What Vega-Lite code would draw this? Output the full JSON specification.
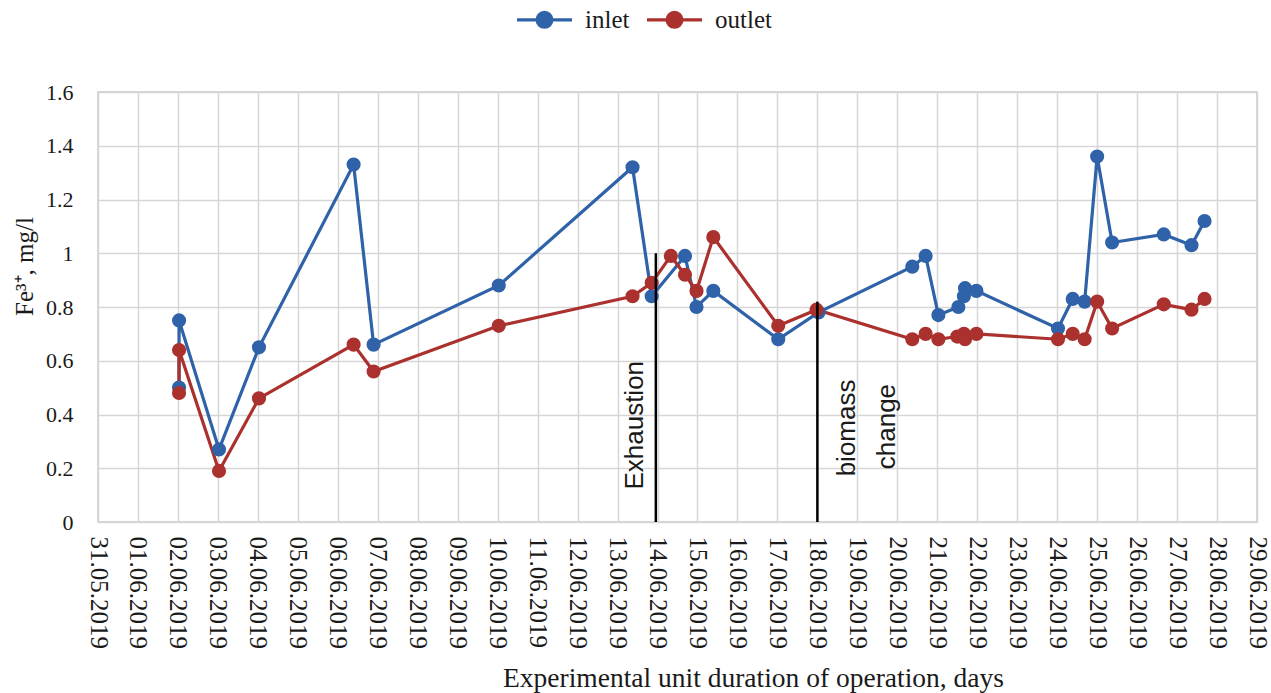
{
  "$schema": "https://vega.github.io/schema/vega-lite/v6.json",
  "autosize": {"type": "none"},
  "width": 1159,
  "height": 430,
  "padding": {"left": 98, "top": 92, "right": 14, "bottom": 171},
  "background": "white",
  "config": {
    "view": {"stroke": "#c8c8c8", "strokeWidth": 1.5},
    "axis": {"gridColor": "#d6d6d6", "gridWidth": 1.5, "domain": false, "ticks": false}
  },
  "datasets": {
    "series": [
      {"series": "inlet", "ord": 1, "t": "2019-06-02T00:40", "v": 0.50},
      {"series": "inlet", "ord": 2, "t": "2019-06-02T00:41", "v": 0.75},
      {"series": "inlet", "ord": 3, "t": "2019-06-03T00:40", "v": 0.27},
      {"series": "inlet", "ord": 4, "t": "2019-06-04T00:40", "v": 0.65},
      {"series": "inlet", "ord": 5, "t": "2019-06-06T09:30", "v": 1.33},
      {"series": "inlet", "ord": 6, "t": "2019-06-06T21:30", "v": 0.66},
      {"series": "inlet", "ord": 7, "t": "2019-06-10T00:40", "v": 0.88},
      {"series": "inlet", "ord": 8, "t": "2019-06-13T09:00", "v": 1.32},
      {"series": "inlet", "ord": 9, "t": "2019-06-13T20:30", "v": 0.84},
      {"series": "inlet", "ord": 10, "t": "2019-06-14T16:30", "v": 0.99},
      {"series": "inlet", "ord": 11, "t": "2019-06-14T23:25", "v": 0.80},
      {"series": "inlet", "ord": 12, "t": "2019-06-15T09:30", "v": 0.86},
      {"series": "inlet", "ord": 13, "t": "2019-06-17T00:30", "v": 0.68},
      {"series": "inlet", "ord": 14, "t": "2019-06-18T00:40", "v": 0.78},
      {"series": "inlet", "ord": 15, "t": "2019-06-20T09:00", "v": 0.95},
      {"series": "inlet", "ord": 16, "t": "2019-06-20T17:00", "v": 0.99},
      {"series": "inlet", "ord": 17, "t": "2019-06-21T00:40", "v": 0.77},
      {"series": "inlet", "ord": 18, "t": "2019-06-21T12:40", "v": 0.80},
      {"series": "inlet", "ord": 19, "t": "2019-06-21T16:00", "v": 0.84},
      {"series": "inlet", "ord": 20, "t": "2019-06-21T16:40", "v": 0.87},
      {"series": "inlet", "ord": 21, "t": "2019-06-21T23:30", "v": 0.86},
      {"series": "inlet", "ord": 22, "t": "2019-06-24T00:30", "v": 0.72},
      {"series": "inlet", "ord": 23, "t": "2019-06-24T09:20", "v": 0.83},
      {"series": "inlet", "ord": 24, "t": "2019-06-24T16:30", "v": 0.82},
      {"series": "inlet", "ord": 25, "t": "2019-06-25T00:00", "v": 1.36},
      {"series": "inlet", "ord": 26, "t": "2019-06-25T09:00", "v": 1.04},
      {"series": "inlet", "ord": 27, "t": "2019-06-26T16:00", "v": 1.07},
      {"series": "inlet", "ord": 28, "t": "2019-06-27T08:40", "v": 1.03},
      {"series": "inlet", "ord": 29, "t": "2019-06-27T16:30", "v": 1.12},
      {"series": "outlet", "ord": 1, "t": "2019-06-02T00:40", "v": 0.48},
      {"series": "outlet", "ord": 2, "t": "2019-06-02T00:41", "v": 0.64},
      {"series": "outlet", "ord": 3, "t": "2019-06-03T00:40", "v": 0.19},
      {"series": "outlet", "ord": 4, "t": "2019-06-04T00:40", "v": 0.46},
      {"series": "outlet", "ord": 5, "t": "2019-06-06T09:30", "v": 0.66},
      {"series": "outlet", "ord": 6, "t": "2019-06-06T21:30", "v": 0.56},
      {"series": "outlet", "ord": 7, "t": "2019-06-10T00:40", "v": 0.73},
      {"series": "outlet", "ord": 8, "t": "2019-06-13T09:00", "v": 0.84},
      {"series": "outlet", "ord": 9, "t": "2019-06-13T20:30", "v": 0.89},
      {"series": "outlet", "ord": 10, "t": "2019-06-14T08:00", "v": 0.99},
      {"series": "outlet", "ord": 11, "t": "2019-06-14T16:30", "v": 0.92},
      {"series": "outlet", "ord": 12, "t": "2019-06-14T23:25", "v": 0.86},
      {"series": "outlet", "ord": 13, "t": "2019-06-15T09:30", "v": 1.06},
      {"series": "outlet", "ord": 14, "t": "2019-06-17T00:30", "v": 0.73},
      {"series": "outlet", "ord": 15, "t": "2019-06-17T23:30", "v": 0.79},
      {"series": "outlet", "ord": 16, "t": "2019-06-20T09:00", "v": 0.68},
      {"series": "outlet", "ord": 17, "t": "2019-06-20T17:00", "v": 0.70},
      {"series": "outlet", "ord": 18, "t": "2019-06-21T00:40", "v": 0.68},
      {"series": "outlet", "ord": 19, "t": "2019-06-21T12:00", "v": 0.69},
      {"series": "outlet", "ord": 20, "t": "2019-06-21T16:00", "v": 0.70},
      {"series": "outlet", "ord": 21, "t": "2019-06-21T16:40", "v": 0.68},
      {"series": "outlet", "ord": 22, "t": "2019-06-21T23:30", "v": 0.70},
      {"series": "outlet", "ord": 23, "t": "2019-06-24T00:30", "v": 0.68},
      {"series": "outlet", "ord": 24, "t": "2019-06-24T09:20", "v": 0.70},
      {"series": "outlet", "ord": 25, "t": "2019-06-24T16:30", "v": 0.68},
      {"series": "outlet", "ord": 26, "t": "2019-06-25T00:00", "v": 0.82},
      {"series": "outlet", "ord": 27, "t": "2019-06-25T09:00", "v": 0.72},
      {"series": "outlet", "ord": 28, "t": "2019-06-26T16:00", "v": 0.81},
      {"series": "outlet", "ord": 29, "t": "2019-06-27T08:40", "v": 0.79},
      {"series": "outlet", "ord": 30, "t": "2019-06-27T16:30", "v": 0.83}
    ],
    "events": [
      {"t": "2019-06-13T23:00", "v0": 0, "v1": 1.0},
      {"t": "2019-06-18T00:00", "v0": 0, "v1": 0.82}
    ],
    "notes": [
      {"t": "2019-06-13T10:30", "v": 0.36, "label": "Exhaustion"},
      {"t": "2019-06-18T17:50", "v": 0.35, "label": "biomass"},
      {"t": "2019-06-19T17:50", "v": 0.355, "label": "change"}
    ]
  },
  "layer": [
    {
      "data": {"name": "series"},
      "mark": {"type": "line", "strokeWidth": 3.2, "point": {"filled": true, "size": 200, "opacity": 1}},
      "encoding": {
        "x": {
          "field": "t", "type": "temporal",
          "scale": {"domain": [{"year": 2019, "month": 5, "date": 31}, {"year": 2019, "month": 6, "date": 29}]},
          "axis": {
            "format": "%d.%m.%Y",
            "tickCount": {"interval": "day", "step": 1},
            "labelAngle": 90, "labelAlign": "left", "labelBaseline": "middle",
            "labelFont": "Liberation Serif", "labelFontSize": 25, "labelColor": "#1a1a1a",
            "labelPadding": 14, "labelOverlap": false, "labelFlush": false,
            "title": "Experimental unit duration of operation, days",
            "titleFont": "Liberation Serif", "titleFontSize": 27.5, "titleFontWeight": "normal",
            "titleColor": "#1a1a1a",
            "titleX": 655, "titleY": 164, "titleAlign": "center", "titleBaseline": "alphabetic"
          }
        },
        "y": {
          "field": "v", "type": "quantitative",
          "scale": {"domain": [0, 1.6], "nice": false},
          "axis": {
            "values": [0, 0.2, 0.4, 0.6, 0.8, 1, 1.2, 1.4, 1.6],
            "format": "~g",
            "labelFont": "Liberation Serif", "labelFontSize": 22, "labelColor": "#1a1a1a",
            "labelPadding": 25,
            "title": "Fe³⁺, mg/l",
            "titleFont": "Liberation Serif", "titleFontSize": 25, "titleFontWeight": "normal",
            "titleColor": "#1a1a1a",
            "titleAngle": -90, "titleX": -74, "titleY": 174, "titleAlign": "center", "titleBaseline": "middle"
          }
        },
        "color": {
          "field": "series", "type": "nominal",
          "scale": {"domain": ["inlet", "outlet"], "range": ["#2f62a8", "#aa312d"]},
          "legend": {
            "title": null,
            "orient": "none", "direction": "horizontal",
            "legendX": 417, "legendY": -102,
            "labelFont": "Liberation Serif", "labelFontSize": 25, "labelColor": "#1a1a1a",
            "labelOffset": 11, "columnSpacing": 30,
            "symbolSize": 3025, "symbolStrokeWidth": 3,
            "symbolType": "M-1,0H1M-0.27,0A0.27,0.27,0,1,0,0.27,0A0.27,0.27,0,1,0,-0.27,0Z",
            "encode": {
              "symbols": {
                "update": {
                  "fill": {"scale": "color", "field": "value"},
                  "stroke": {"scale": "color", "field": "value"},
                  "strokeWidth": {"value": 3.2},
                  "opacity": {"value": 1},
                  "fillOpacity": {"value": 1}
                }
              }
            }
          }
        },
        "order": {"field": "ord", "type": "quantitative"}
      }
    },
    {
      "data": {"name": "events"},
      "mark": {"type": "rule", "color": "#000000", "strokeWidth": 2.5},
      "encoding": {
        "x": {"field": "t", "type": "temporal"},
        "y": {"field": "v0", "type": "quantitative"},
        "y2": {"field": "v1"}
      }
    },
    {
      "data": {"name": "notes"},
      "mark": {"type": "text", "angle": 270, "font": "Liberation Sans", "fontSize": 26, "color": "#1a1a1a", "align": "center", "baseline": "middle"},
      "encoding": {
        "x": {"field": "t", "type": "temporal"},
        "y": {"field": "v", "type": "quantitative"},
        "text": {"field": "label"}
      }
    }
  ]
}
